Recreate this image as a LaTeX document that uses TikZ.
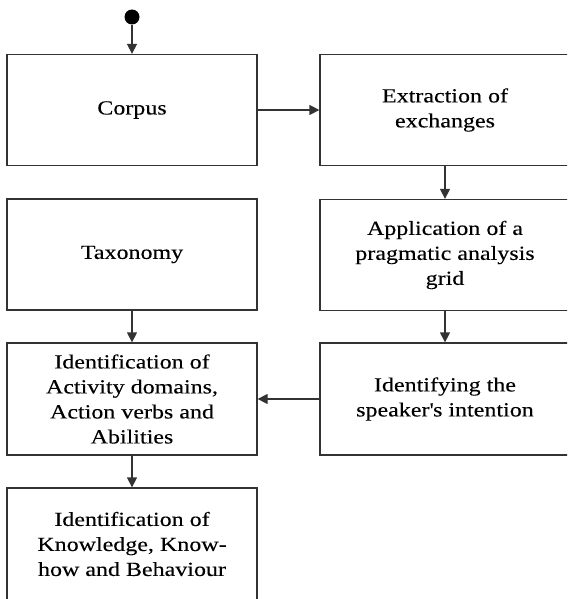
\documentclass[tikz,border=0pt]{standalone}
\usepackage{fontspec}
\setmainfont{Liberation Serif}[FakeStretch=1.2,FakeBold=0.15]
\usetikzlibrary{arrows.meta}
\definecolor{edgegray}{HTML}{333333}
\begin{document}
\begin{tikzpicture}[x=1pt,y=-1pt,
  box/.style={draw=edgegray, line width=1.3pt, minimum width=250pt, minimum height=111pt,
    align=center, inner sep=0pt, font=\fontsize{20pt}{25pt}\selectfont},
  conn/.style={draw=edgegray, line width=1.3pt, -{Triangle[length=10pt,width=10pt]}}]
\clip (0,0) rectangle (567,599);
\fill[white] (0,0) rectangle (567,599);
\node[circle, fill=black, minimum size=15pt, inner sep=0pt] (start) at (132,17) {};
\node[box] (corpus) at (132,110) {Corpus};
\node[box] (taxonomy) at (132,254.5) {Taxonomy};
\node[box, minimum height=112pt] (ident) at (132,399) {Identification of\\Activity domains,\\Action verbs and\\Abilities};
\node[box, minimum height=112pt] (know) at (132,544) {Identification of\\Knowledge, Know-\\how and Behaviour};
\node[box] (extract) at (445,110) {Extraction of\\exchanges};
\node[box] (apply) at (445,255) {Application of a\\pragmatic analysis\\grid};
\node[box, minimum height=112pt] (speaker) at (445,399) {Identifying the\\speaker\textquotesingle s intention};
\draw[conn] (start) -- (corpus);
\draw[conn] (corpus) -- (extract);
\draw[conn] (extract) -- (apply);
\draw[conn] (apply) -- (speaker);
\draw[conn] (speaker) -- (ident);
\draw[conn] (taxonomy) -- (ident);
\draw[conn] (ident) -- (know);
\end{tikzpicture}
\end{document}
